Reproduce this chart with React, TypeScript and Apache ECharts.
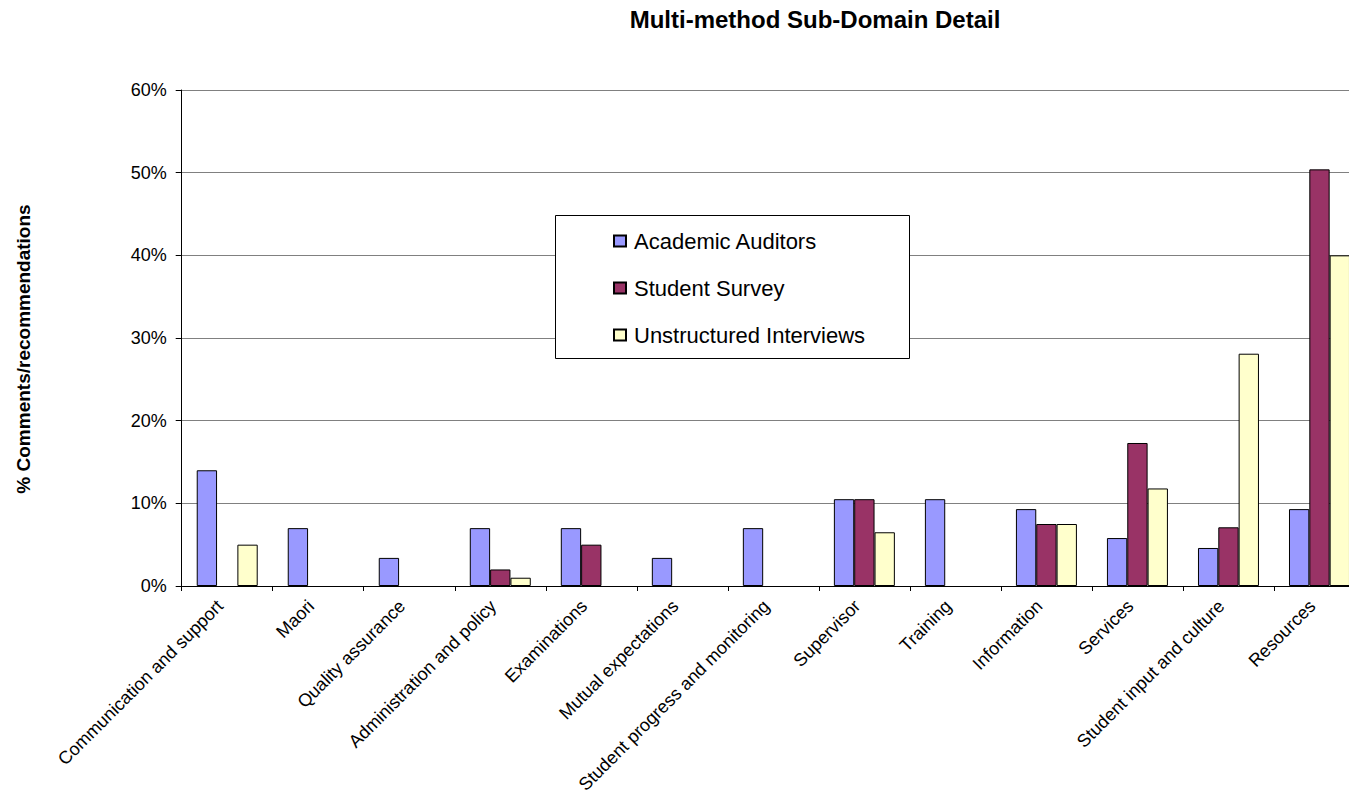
import React, { useEffect, useRef } from "react";
import * as echarts from "echarts";

const categories = [
  "Communication and support",
  "Maori",
  "Quality assurance",
  "Administration and policy",
  "Examinations",
  "Mutual expectations",
  "Student progress and monitoring",
  "Supervisor",
  "Training",
  "Information",
  "Services",
  "Student input and culture",
  "Resources",
];

const academicAuditors = [14.0, 7.0, 3.4, 7.0, 7.0, 3.4, 7.0, 10.5, 10.5, 9.3, 5.8, 4.6, 9.3];
const studentSurvey = [0, 0, 0, 2.0, 5.0, 0, 0, 10.5, 0, 7.5, 17.3, 7.1, 50.4];
const unstructuredInterviews = [5.0, 0, 0, 1.0, 0, 0, 0, 6.5, 0, 7.5, 11.8, 28.1, 40.0];

const yTicks = [0, 10, 20, 30, 40, 50, 60];

const FONT = "'Liberation Sans', Arial, sans-serif";

export default function App() {
  const ref = useRef<HTMLDivElement>(null);

  useEffect(() => {
    if (!ref.current) return;
    const chart = echarts.init(ref.current, undefined, { renderer: "svg" });

    // zero-valued bars sit on the axis line; drop their outline so it stays clean
    const barSeries = (name: string, data: number[], color: string) => ({
      name,
      type: "bar",
      data: data.map((v) => (v === 0 ? { value: v, itemStyle: { borderWidth: 0 } } : v)),
      barGap: "0%",
      barCategoryGap: "33%",
      itemStyle: { color, borderColor: "#000", borderWidth: 1 },
    });

    chart.setOption({
      animation: false,
      backgroundColor: "#fff",
      textStyle: { fontFamily: FONT },
      grid: {
        left: 181.7,
        right: -16,
        top: 90,
        bottom: 217,
        containLabel: false,
        outerBoundsMode: "none",
      },
      graphic: [
        {
          type: "text",
          x: 815,
          y: 19,
          style: {
            text: "Multi-method Sub-Domain Detail",
            font: `bold 24px ${FONT}`,
            fill: "#000",
            textAlign: "center",
            textVerticalAlign: "middle",
          },
        },
        {
          type: "rect",
          z: 3,
          shape: { x: 555.5, y: 215.5, width: 354, height: 143 },
          style: { fill: "#fff", stroke: "#000", lineWidth: 1 },
        },
      ],
      legend: {
        orient: "vertical",
        left: 608,
        top: 225,
        z: 5,
        itemWidth: 12,
        itemHeight: 11,
        itemGap: 25,
        icon: "rect",
        textStyle: {
          fontFamily: FONT,
          fontSize: 22,
          color: "#000",
          lineHeight: 22,
          padding: [0, 0, 0, 3],
        },
        data: ["Academic Auditors", "Student Survey", "Unstructured Interviews"],
      },
      xAxis: {
        type: "category",
        data: categories,
        axisLine: { lineStyle: { color: "#000", width: 1 } },
        axisTick: { show: true, alignWithLabel: false, length: 5, lineStyle: { color: "#000" } },
        axisLabel: {
          rotate: 45,
          interval: 0,
          margin: 10,
          padding: [0, 10, 0, 0],
          fontSize: 18,
          fontFamily: FONT,
          color: "#000",
        },
      },
      yAxis: {
        type: "value",
        min: 0,
        max: 60,
        interval: 10,
        name: "% Comments/recommendations",
        nameLocation: "middle",
        nameRotate: 90,
        nameGap: 149,
        nameTextStyle: {
          fontFamily: FONT,
          fontSize: 19,
          fontWeight: "bold",
          color: "#000",
          padding: [0, 22, 0, 0],
        },
        axisLine: { show: true, lineStyle: { color: "#000", width: 1 } },
        axisTick: { show: true, length: 6, lineStyle: { color: "#000" } },
        axisLabel: {
          margin: 15,
          fontSize: 18,
          fontFamily: FONT,
          color: "#000",
          formatter: (v: number) => (yTicks.includes(v) ? `${v}%` : ""),
        },
        splitLine: { show: true, lineStyle: { color: "#808080", width: 1 } },
      },
      series: [
        barSeries("Academic Auditors", academicAuditors, "#9999FF"),
        barSeries("Student Survey", studentSurvey, "#993366"),
        barSeries("Unstructured Interviews", unstructuredInterviews, "#FFFFCC"),
      ],
    });

    return () => chart.dispose();
  }, []);

  return (
    <div
      ref={ref}
      style={{ position: "fixed", left: 0, top: 0, width: 1349, height: 803, overflow: "hidden" }}
    />
  );
}
